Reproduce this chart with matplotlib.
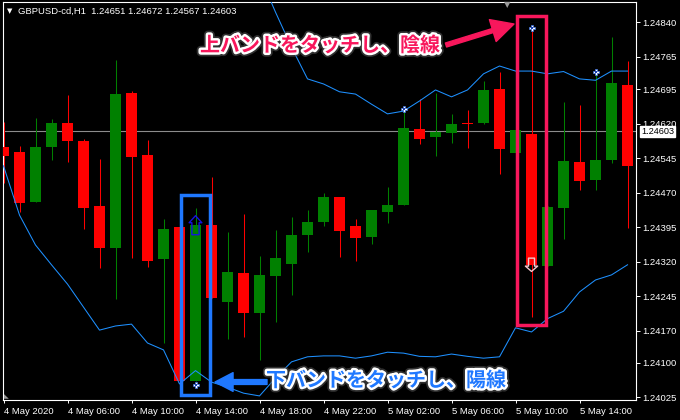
import numpy as np
import matplotlib
matplotlib.use("Agg")
import matplotlib.pyplot as plt
from matplotlib.path import Path
from matplotlib.patches import Rectangle
import matplotlib.patheffects as pe
import matplotlib.transforms as mtransforms

# ---------------- data ----------------
title_text = "GBPUSD-cd,H1  1.24651 1.24672 1.24567 1.24603"
time_labels = ["4 May 2020", "4 May 06:00", "4 May 10:00", "4 May 14:00", "4 May 18:00",
               "4 May 22:00", "5 May 02:00", "5 May 06:00", "5 May 10:00", "5 May 14:00"]
label_bars = [0, 4, 8, 12, 16, 20, 24, 28, 32, 36]

opens = [1.24570, 1.24558, 1.24450, 1.24570, 1.24621, 1.24582, 1.24441, 1.24350, 1.24686, 1.24552,
         1.24326, 1.24395, 1.24061, 1.24399, 1.24233, 1.24295, 1.24208, 1.24289, 1.24315, 1.24378,
         1.24407, 1.24460, 1.24397, 1.24373, 1.24428, 1.24444, 1.24608, 1.24591, 1.24600, 1.24621,
         1.24621, 1.24695, 1.24557, 1.24597, 1.24311, 1.24437, 1.24536, 1.24497, 1.24541, 1.24704]
highs = [1.24624, 1.24572, 1.24633, 1.24630, 1.24682, 1.24586, 1.24543, 1.24758, 1.24691, 1.24584,
         1.24413, 1.24396, 1.24436, 1.24504, 1.24385, 1.24423, 1.24332, 1.24389, 1.24417, 1.24431,
         1.24468, 1.24461, 1.24413, 1.24433, 1.24482, 1.24652, 1.24673, 1.24686, 1.24641, 1.24649,
         1.24712, 1.24731, 1.24607, 1.24828, 1.24440, 1.24667, 1.24660, 1.24733, 1.24807, 1.24756]
lows = [1.24490, 1.24428, 1.24449, 1.24541, 1.24537, 1.24391, 1.24307, 1.24238, 1.24328, 1.24309,
        1.24144, 1.24060, 1.24060, 1.24241, 1.24152, 1.24155, 1.24106, 1.24189, 1.24247, 1.24341,
        1.24397, 1.24330, 1.24321, 1.24359, 1.24404, 1.24443, 1.24576, 1.24550, 1.24577, 1.24567,
        1.24619, 1.24511, 1.24556, 1.24199, 1.24310, 1.24369, 1.24476, 1.24476, 1.24534, 1.24394]
closes = [1.24550, 1.24448, 1.24569, 1.24621, 1.24581, 1.24437, 1.24350, 1.24684, 1.24548, 1.24321,
          1.24391, 1.24061, 1.24399, 1.24241, 1.24297, 1.24208, 1.24290, 1.24328, 1.24378, 1.24406,
          1.24460, 1.24387, 1.24372, 1.24432, 1.24443, 1.24610, 1.24587, 1.24602, 1.24619, 1.24619,
          1.24693, 1.24565, 1.24606, 1.24313, 1.24439, 1.24539, 1.24495, 1.24541, 1.24708, 1.24528]

upper_band = [np.nan] * 16 + [
    1.24943, 1.24862, 1.24786, 1.24717, 1.24706, 1.24689, 1.24684, 1.24662, 1.24641, 1.24647,
    1.24669, 1.24693, 1.24678, 1.24693, 1.24728, 1.24745, 1.24734, 1.24734, 1.24728, 1.24733,
    1.24717, 1.24714, 1.24734, 1.24734]
lower_band = [1.24528, 1.24421, 1.24356, 1.24313, 1.24271, 1.24221, 1.24171, 1.24180, 1.24184, 1.24143,
              1.24128, 1.24054, 1.24083, 1.24058, 1.24047, 1.24034, 1.24028, 1.24067, 1.24102, 1.24113,
              1.24115, 1.24115, 1.24110, 1.24115, 1.24123, 1.24121, 1.24114, 1.24113, 1.24119, 1.24114,
              1.24110, 1.24113, 1.24176, 1.24167, 1.24196, 1.24212, 1.24254, 1.24280, 1.24291, 1.24313]

y_ticks = [1.24840, 1.24765, 1.24695, 1.24620, 1.24545, 1.24470, 1.24395, 1.24320, 1.24245,
           1.24170, 1.24100, 1.24025]
current_price = 1.24603

upper_touch_bars = [25, 33, 37]
lower_touch_bars = [12]
buy_arrow_bars = [12]
sell_arrow_bars = [33]

text_upper = "上バンドをタッチし、陰線"
text_lower = "下バンドをタッチし、陽線"

# ---------------- style ----------------
W, H = 680, 420
fig = plt.figure(figsize=(6.8, 4.2), dpi=100, facecolor="black")
ax_l, ax_r, ax_t, ax_b = 2.5, 636.0, 2.3, 400.0
ax = fig.add_axes([ax_l / W, (H - ax_b) / H, (ax_r - ax_l) / W, (ax_b - ax_t) / H])
ax.set_facecolor("black")

GREEN = "#008000"
RED = "#ff0000"
BAND = "#1e90ff"
PINK = "#f8175c"
BLUE = "#1f78ff"

n = len(opens)
x = np.arange(n)
o = np.array(opens); h = np.array(highs); l = np.array(lows); c = np.array(closes)
up = c >= o
cols = np.where(up, GREEN, RED)

# wicks
ax.vlines(x, l, h, colors=cols, linewidth=0.75, zorder=2)
# bodies
body_h = np.maximum(np.abs(c - o), 0.00002)
ax.bar(x, body_h, bottom=np.minimum(o, c), width=0.69, color=cols, linewidth=0, zorder=3)

# bollinger bands
ax.plot(x, upper_band, color=BAND, linewidth=0.75, zorder=4)
ax.plot(x, lower_band, color=BAND, linewidth=0.75, zorder=4)

# current price line
ax.axhline(current_price, color="#8c8c8c", linewidth=0.8, zorder=1)

# touch markers
for bars, vals, dy in ((upper_touch_bars, h, 0.0), (lower_touch_bars, l, -3.0)):
    tr = ax.transData + mtransforms.ScaledTranslation(0, dy / 72, fig.dpi_scale_trans)
    xs = np.array(bars)
    ys = vals[xs]
    ax.scatter(xs, ys, marker="P", s=22, facecolor="white", edgecolor="#3a6fe0",
               linewidth=0.5, zorder=6, transform=tr)
    ax.scatter(xs, ys, marker="s", s=1.5, facecolor="#1a3fb0", linewidth=0, zorder=7, transform=tr)

# arrows (custom markers centred on close)
up_arrow = Path([(0, 1), (-0.67, 0.26), (-0.38, 0.26), (-0.38, -1), (0.38, -1), (0.38, 0.26),
                 (0.67, 0.26), (0, 1)], closed=True)
dn_arrow = Path([(0, -1), (-0.92, -0.2), (-0.45, -0.2), (-0.45, 1), (0.45, 1), (0.45, -0.2),
                 (0.92, -0.2), (0, -1)], closed=True)
bb = np.array(buy_arrow_bars)
ax.scatter(bb, c[bb], marker=up_arrow, s=(19 / 1.389) ** 2, facecolor="none",
           edgecolor="#1414e0", linewidth=1.0, zorder=8)
sb = np.array(sell_arrow_bars)
ax.scatter(sb, c[sb], marker=dn_arrow, s=(13.3 / 1.389) ** 2, facecolor="none",
           edgecolor="#f4c4cc", linewidth=1.0, zorder=8)

# highlight boxes around the touching candles
for k, pad_top, pad_bot, colr in ((sell_arrow_bars[0], 0.00026, 0.00017, PINK),
                                  (buy_arrow_bars[0], 0.00029, 0.00030, BLUE)):
    y0 = l[k] - pad_bot
    y1 = h[k] + pad_top
    ax.add_patch(Rectangle((k - 0.9, y0), 1.8, y1 - y0, fill=False, edgecolor=colr,
                           linewidth=2.5, zorder=9))

# axes limits & ticks
ax.set_xlim(-0.0625, 39.53)
ax.set_ylim(1.2401912, 1.2488347)
ax.set_xticks(label_bars)
ax.set_xticklabels(time_labels)
ax.set_yticks(y_ticks)
ax.set_yticklabels([f"{v:.5f}" for v in y_ticks])
ax.yaxis.tick_right()
tick_font = dict(family=["Liberation Sans", "DejaVu Sans"], size=6.8)
for lbl in ax.get_xticklabels():
    lbl.set_horizontalalignment("left")
    lbl.set_fontproperties(tick_font)
for lbl in ax.get_yticklabels():
    lbl.set_fontproperties(tick_font)
ax.tick_params(axis="x", colors="white", length=2.5, width=0.7, pad=2.5)
ax.tick_params(axis="y", colors="white", length=3, width=0.7, pad=1.5)
for sp in ax.spines.values():
    sp.set_color("white")
    sp.set_linewidth(0.8)

# current price box
btr = mtransforms.blended_transform_factory(ax.transAxes, ax.transData)
ax.text(1.0 + 5 / (ax_r - ax_l), current_price, f"{current_price:.5f}", transform=btr,
        ha="left", va="center", color="black", fontsize=6.6, family=["Liberation Sans"],
        bbox=dict(boxstyle="square,pad=0.1", facecolor="white", edgecolor="white"),
        clip_on=False, zorder=10)

# title
fig.text(7 / W, (H - 11) / H, "▼", color="white", fontsize=5, family=["DejaVu Sans"],
         ha="left", va="center")
fig.text(18 / W, (H - 11) / H, title_text, color="white", fontsize=6.8,
         family=["Liberation Sans", "DejaVu Sans"], ha="left", va="center")
# chart shift marker and corner marker
fig.text(507 / W, (H - 5) / H, "▼", color="#9a9a9a", fontsize=6, family=["DejaVu Sans"],
         ha="center", va="center")
fig.text(3.5 / W, (H - 397) / H, "◣", color="#9a9a9a", fontsize=4.5, family=["DejaVu Sans"],
         ha="left", va="center")

# annotations
jp = ["Noto Sans CJK JP", "DejaVu Sans"]
effects = [pe.Stroke(linewidth=6, foreground="#505050", alpha=0.6),
           pe.Stroke(linewidth=3.5, foreground="white"), pe.Normal()]
fig.text(320 / W, (H - 45) / H, text_upper, color=PINK, fontsize=14.4, fontweight="bold",
         family=jp, ha="center", va="center", path_effects=effects)
fig.text(386 / W, (H - 380) / H, text_lower, color=BLUE, fontsize=14.4, fontweight="bold",
         family=jp, ha="center", va="center", path_effects=effects)

ax.annotate("", xy=(514, H - 24), xytext=(446, H - 45), xycoords="figure pixels",
            textcoords="figure pixels",
            arrowprops=dict(arrowstyle="simple,head_length=1.6,head_width=1.65,tail_width=0.3",
                            color=PINK, mutation_scale=10, shrinkA=0, shrinkB=0), zorder=11)
ax.annotate("", xy=(215, H - 382), xytext=(267, H - 382), xycoords="figure pixels",
            textcoords="figure pixels",
            arrowprops=dict(arrowstyle="simple,head_length=1.3,head_width=1.35,tail_width=0.35",
                            color=BLUE, mutation_scale=10, shrinkA=0, shrinkB=0), zorder=11)

fig.savefig("out.png", dpi=100, facecolor="black")
